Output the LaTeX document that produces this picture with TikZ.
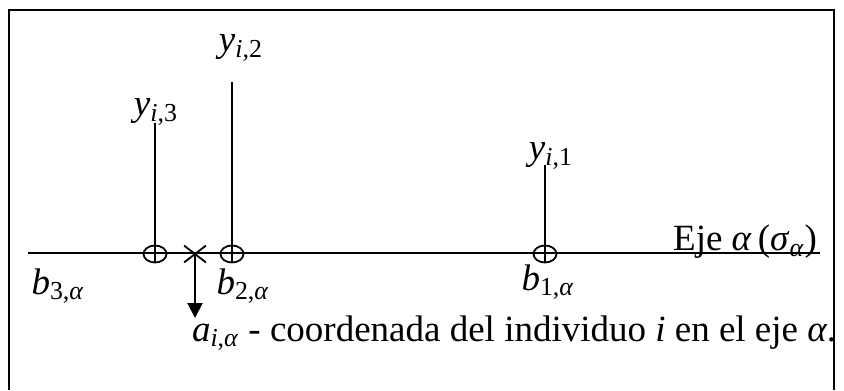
\documentclass[tikz,border=0pt]{standalone}
\usepackage{fontspec}
\setmainfont{Liberation Serif}
\usetikzlibrary{shapes.geometric,shapes.misc,arrows.meta}
\newcommand{\alf}{\textit{α}}
\newcommand{\ix}[2]{\textit{#1}\textsubscript{#2}}

\begin{document}
\begin{tikzpicture}[x=0.5pt, y=-0.5pt, line width=1pt,
    font=\fontsize{18.5}{21}\selectfont,
    ring/.style={ellipse, draw, line width=0.9pt, inner sep=0pt, minimum width=11.5pt, minimum height=8.5pt},
    mark cross/.style={cross out, draw, line width=0.9pt, inner sep=0pt, minimum width=10pt, minimum height=7.5pt},
    lbl/.style={inner sep=1pt}]
        \useasboundingbox (0,0) rectangle (844,390);
        \draw[line width=1.2pt] (9,390) -- (9,10) -- (834,10) -- (834,390);
        \coordinate (L) at (28,253);
        \coordinate (R) at (820,253);
        \draw (L) -- (R);
        \node[ring] (c3) at (155,254) {};
        \node[ring] (c2) at (232,254) {};
        \node[ring] (c1) at (545,254) {};
        \node[mark cross] (cr) at (195,254) {};
        \coordinate (t3) at (155,123);
        \coordinate (t2) at (232,82);
        \coordinate (t1) at (545,165);
        \coordinate (tip) at (195,318);
        \draw (c3.south) -- (t3);
        \draw (c2.south) -- (t2);
        \draw (c1.south) -- (t1);
        \draw[-{Triangle[length=7.5pt, width=7.5pt]}] (cr.center) -- (tip);
        \node[lbl] (y2) at (241,48) {\ix{y}{\textit{i},2}};
        \node[lbl] (y3) at (156,112) {\ix{y}{\textit{i},3}};
        \node[lbl] (y1) at (551,156) {\ix{y}{\textit{i},1}};
        \node[lbl] (b3) at (58,286) {\ix{b}{3,\alf}};
        \node[lbl] (b2) at (243,286) {\ix{b}{2,\alf}};
        \node[lbl] (b1) at (548,282) {\ix{b}{1,\alf}};
        \node[lbl, anchor=east] (eje) at (820,242) {Eje \alf\,(\ix{σ}{\alf})};
        \node[lbl, anchor=west] (ai) at (189,333) {\ix{a}{\textit{i},\alf} - coordenada del individuo \textit{i} en el eje \alf.};
    \end{tikzpicture}
\end{document}
